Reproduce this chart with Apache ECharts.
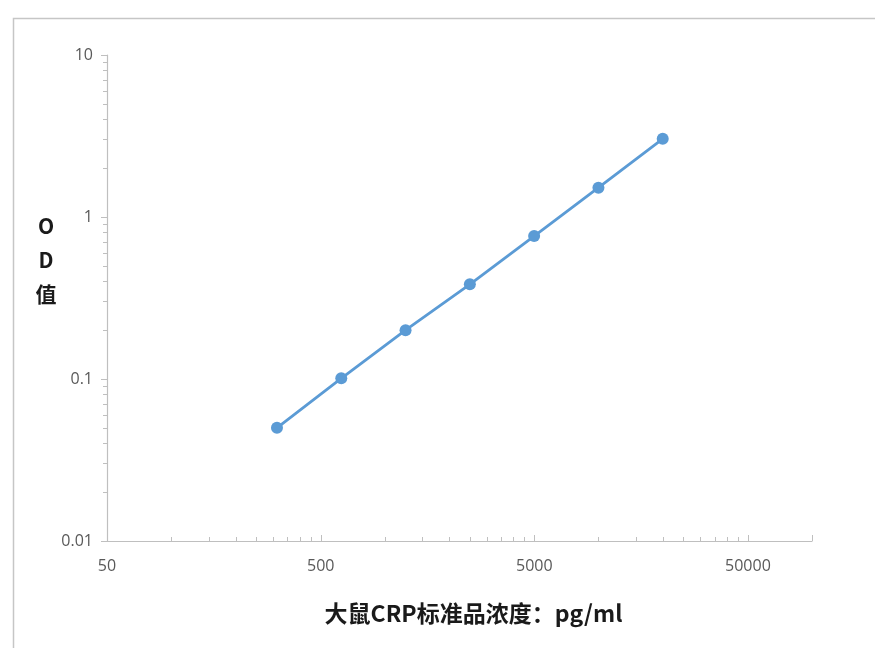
<!DOCTYPE html>
<html>
<head>
<meta charset="utf-8">
<script src="https://cdn.jsdelivr.net/npm/echarts@6/dist/echarts.min.js"></script>
<style>
html,body{margin:0;padding:0;background:#fff;}
#chart{width:875px;height:648px;}
</style>
</head>
<body>
<div id="chart"></div>
<script>
var concentrations = [312.5, 625, 1250, 2500, 5000, 10000, 20000];
var odValues = [0.05, 0.101, 0.2, 0.384, 0.763, 1.516, 3.04];
var xAxisTitle = '大鼠CRP标准品浓度：pg/ml';
var yAxisTitle = 'O\nD\n值';

var pts = concentrations.map(function (c, i) { return [c, odValues[i]]; });
var chart = echarts.init(document.getElementById('chart'));
var axisColor = '#BFBFBF';
var labelColor = '#595959';
var fontFam = '"Noto Sans CJK SC","Open Sans","DejaVu Sans",sans-serif';
function fmt(v) { return String(Number(Number(v).toPrecision(2))); }
chart.setOption({
  animation: false,
  backgroundColor: '#ffffff',
  graphic: [{
    type: 'rect', left: 11, top: 16, silent: true,
    shape: { width: 900, height: 700 },
    style: { fill: 'none', stroke: '#C6C6C6', lineWidth: 1.5 }
  }, {
    type: 'text', x: 46, y: 209, silent: true,
    style: {
      text: yAxisTitle, fill: '#1a1a1a', font: 'bold 21px ' + fontFam,
      lineHeight: 34, align: 'center', verticalAlign: 'top'
    }
  }],
  grid: { left: 107, right: 63, top: 55, bottom: 107, containLabel: false },
  xAxis: {
    type: 'log', logBase: 10, min: 50, max: 100000, interval: 1,
    name: xAxisTitle, nameLocation: 'middle', nameGap: 61,
    nameTextStyle: { fontSize: 23, fontWeight: 'bold', color: '#1a1a1a', fontFamily: fontFam, padding: [0, 0, 0, 28] },
    axisLine: { show: true, lineStyle: { color: axisColor, width: 1.2 } },
    axisTick: { show: true, inside: true, length: 6, lineStyle: { color: axisColor } },
    minorTick: { show: true, splitNumber: 9, length: 4, lineStyle: { color: axisColor } },
    splitLine: { show: false },
    minorSplitLine: { show: false },
    axisLabel: {
      color: labelColor, fontSize: 16, margin: 17, fontFamily: '"Open Sans",sans-serif',
      showMaxLabel: false,
      formatter: fmt
    }
  },
  yAxis: {
    type: 'log', logBase: 10, min: 0.01, max: 10, interval: 1,
    axisLine: { show: true, lineStyle: { color: axisColor, width: 1.2 } },
    axisTick: { show: true, inside: false, length: 6, lineStyle: { color: axisColor } },
    minorTick: { show: true, splitNumber: 9, length: 4, lineStyle: { color: axisColor } },
    splitLine: { show: false },
    minorSplitLine: { show: false },
    axisLabel: {
      color: labelColor, fontSize: 16, margin: 14, fontFamily: '"Open Sans",sans-serif',
      formatter: fmt
    }
  },
  series: [{
    type: 'line',
    data: pts,
    symbol: 'circle',
    symbolSize: 12,
    lineStyle: { color: '#5B9BD5', width: 2.8 },
    itemStyle: { color: '#5B9BD5' }
  }]
});
</script>
</body>
</html>
